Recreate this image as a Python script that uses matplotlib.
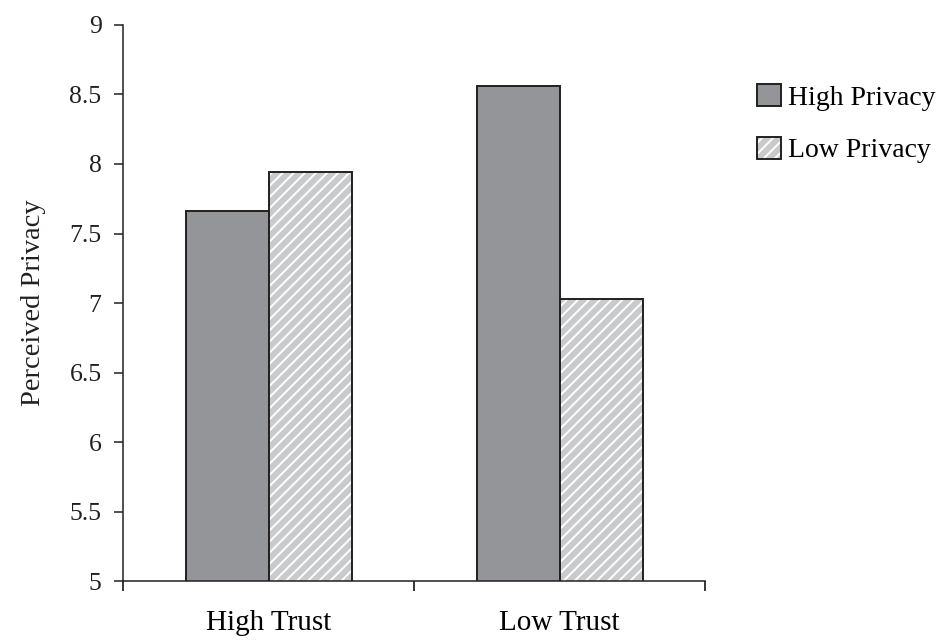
import matplotlib
matplotlib.use("Agg")
import matplotlib.pyplot as plt
from matplotlib.patches import Patch
import numpy as np

#########################################################################
# data

groups = ["High Trust", "Low Trust"]
series = ["High Privacy", "Low Privacy"]
high_privacy = [7.66, 8.56]
low_privacy = [7.94, 7.03]
yticks = [5, 5.5, 6, 6.5, 7, 7.5, 8, 8.5, 9]
ytick_labels = ["5", "5.5", "6", "6.5", "7", "7.5", "8", "8.5", "9"]

#########################################################################
# style

plt.rcParams['font.family'] = ['Liberation Serif', 'DejaVu Serif']
plt.rcParams['hatch.linewidth'] = 1.4

dark_grey = "#939598"
light_grey = "#c9cacb"
edge = "#231f20"
bar_w = 0.285

fig = plt.figure(figsize=(9.47, 6.41), dpi=100)
ax = fig.add_axes([0.130, 0.0936, 0.6146, 0.8674])

x = np.arange(len(groups))

# high privacy: plain dark bars
ax.bar(x - bar_w / 2, high_privacy, bar_w, color=dark_grey,
       edgecolor=edge, linewidth=1.4, zorder=2)

# low privacy: light bars with white stripes, then a dark outline on top
ax.bar(x + bar_w / 2, low_privacy, bar_w, color=light_grey,
       edgecolor="white", hatch="///", linewidth=0, zorder=2)
ax.bar(x + bar_w / 2, low_privacy, bar_w, fill=False,
       edgecolor=edge, linewidth=1.4, zorder=3)

ax.set_ylim(5, 9)
ax.set_xlim(-0.5, 1.5)

ax.set_yticks(yticks)
ax.set_yticklabels(ytick_labels)
ax.tick_params(axis="y", direction="out", length=6.5, width=1.1,
               labelsize=18.5, pad=9, colors="#231f20")

# category boundaries get the tick marks, names sit in between
ax.set_xticks([-0.5, 0.5, 1.5])
ax.set_xticklabels([])
ax.set_xticks(x, minor=True)
ax.set_xticklabels(groups, minor=True)
ax.tick_params(axis="x", which="major", direction="out", length=7, width=1.1)
ax.tick_params(axis="x", which="minor", length=0, labelsize=21, pad=21)

for side in ["top", "right"]:
    ax.spines[side].set_visible(False)
for side in ["left", "bottom"]:
    ax.spines[side].set_linewidth(1.1)
    ax.spines[side].set_color(edge)

ax.set_ylabel("Perceived Privacy", fontsize=20.5, labelpad=17, color="#231f20")

# legend
h1 = Patch(facecolor=dark_grey, edgecolor=edge, linewidth=1.4)
h2a = Patch(facecolor=light_grey, edgecolor="white", hatch="///", linewidth=0)
h2b = Patch(fill=False, edgecolor=edge, linewidth=1.4)
fig.legend([h1, (h2a, h2b)], series, loc="upper left",
           bbox_to_anchor=(757 / 947, 1 - 84 / 641), frameon=False,
           fontsize=20, handlelength=0.85, handleheight=0.85,
           handletextpad=0.25, labelspacing=0.93, borderpad=0,
           borderaxespad=0)

fig.savefig("out.png", dpi=100)
